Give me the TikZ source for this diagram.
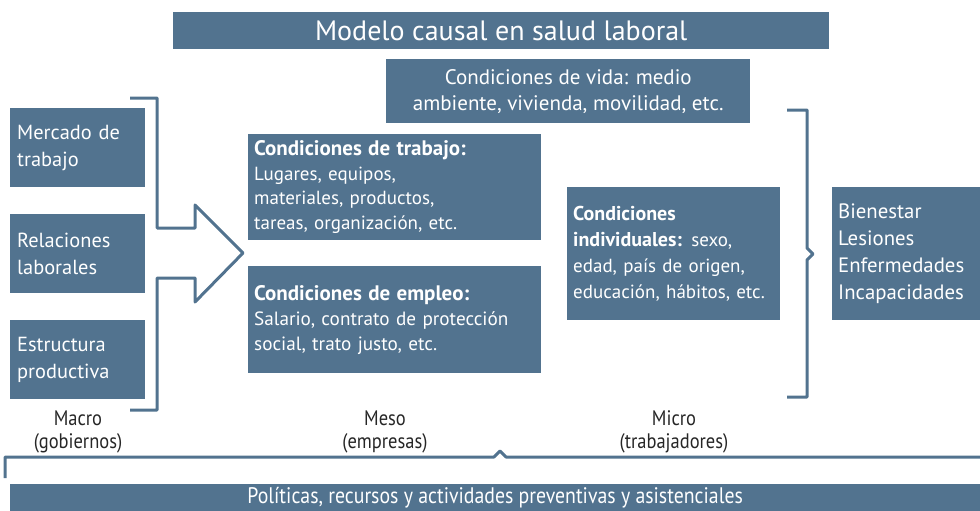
\documentclass[tikz,border=0pt]{standalone}
\usepackage{fontspec}
\setmainfont{PT Sans}
\newfontfamily\condf[FakeStretch=0.88]{PT Sans}
\definecolor{bb}{RGB}{82,115,143}
\begin{document}
\begin{tikzpicture}[x=1pt,y=-1pt,
  box/.style={fill=bb, text=white, inner sep=0pt, anchor=north west, align=left},
  lbl/.style={text=black!85, align=center, inner sep=0pt, font=\condf\fontsize{21}{23.5}\selectfont},
  brk/.style={draw=bb, line width=3pt, line join=round}]
\useasboundingbox (0,0) rectangle (980,511);
% title
\node[box, align=center, minimum width=656, minimum height=37, font=\fontsize{28}{30}\selectfont] (title) at (173,12) {Modelo causal en salud laboral};
% vida
\node[box, align=center, minimum width=364, minimum height=64, font=\fontsize{21}{26}\selectfont] (vida) at (386,59) {Condiciones de vida: medio\\ambiente, vivienda, movilidad, etc.};
% left boxes
\begin{scope}[every node/.append style={box, minimum width=135, minimum height=79, text width=121, font=\fontsize{20.4}{27}\selectfont}]
\node (mer) at (10,108) {Mercado de\\trabajo};
\node (rel) at (10,214) {Relaciones\\laborales};
\node (est) at (10,320) {Estructura\\productiva};
\end{scope}
% middle boxes
\node[box, minimum width=293, minimum height=106, text width=281, font=\fontsize{19}{24.6}\selectfont] (trab) at (248,134)
  {{\fontsize{21}{24.6}\selectfont\bfseries Condiciones de trabajo:}\\Lugares, equipos,\\materiales, productos,\\tareas, organización, etc.};
\node[box, minimum width=293, minimum height=107, text width=281, font=\fontsize{19.2}{25}\selectfont] (emp) at (248,266)
  {{\fontsize{21}{25}\selectfont\bfseries Condiciones de empleo:}\\Salario, contrato de protección\\social, trato justo, etc.};
\node[box, minimum width=213, minimum height=133, text width=201, font=\fontsize{19}{26}\selectfont] (ind) at (567,187)
  {{\fontsize{20}{26}\selectfont\bfseries Condiciones}\\{\fontsize{20}{26}\selectfont\bfseries individuales:} sexo,\\edad, país de origen,\\educación, hábitos, etc.};
\node[box, minimum width=148, minimum height=133, text width=136, font=\fontsize{20.8}{27}\selectfont] (out) at (832,187)
  {Bienestar\\Lesiones\\Enfermedades\\Incapacidades};
% bottom bar
\node[box, align=center, minimum width=970, minimum height=27, font=\condf\fontsize{22.5}{24}\selectfont] (pol) at (10,484) {Políticas, recursos y actividades preventivas y asistenciales};
% labels
\node[lbl] (macro) at (78,432) {Macro\\(gobiernos)};
\node[lbl] (meso) at (385,432) {Meso\\(empresas)};
\node[lbl] (micro) at (674,432) {Micro\\(trabajadores)};
% left bracket + arrow
\draw[brk] (130,98) -- (157,98) -- (157,228) -- (195,228) -- (195,205) -- (243,253) -- (195,302) -- (195,278) -- (157,278) -- (157,410) -- (130,410);
% right bracket
\draw[brk] (787,110) -- (807,110) -- (807,248) -- (813,254) -- (807,260) -- (807,397) -- (787,397);
% bottom bracket
\draw[brk] (5,478) -- (5,457) -- (494,457) -- (500,451) -- (506,457) -- (982,457);
\end{tikzpicture}
\end{document}
